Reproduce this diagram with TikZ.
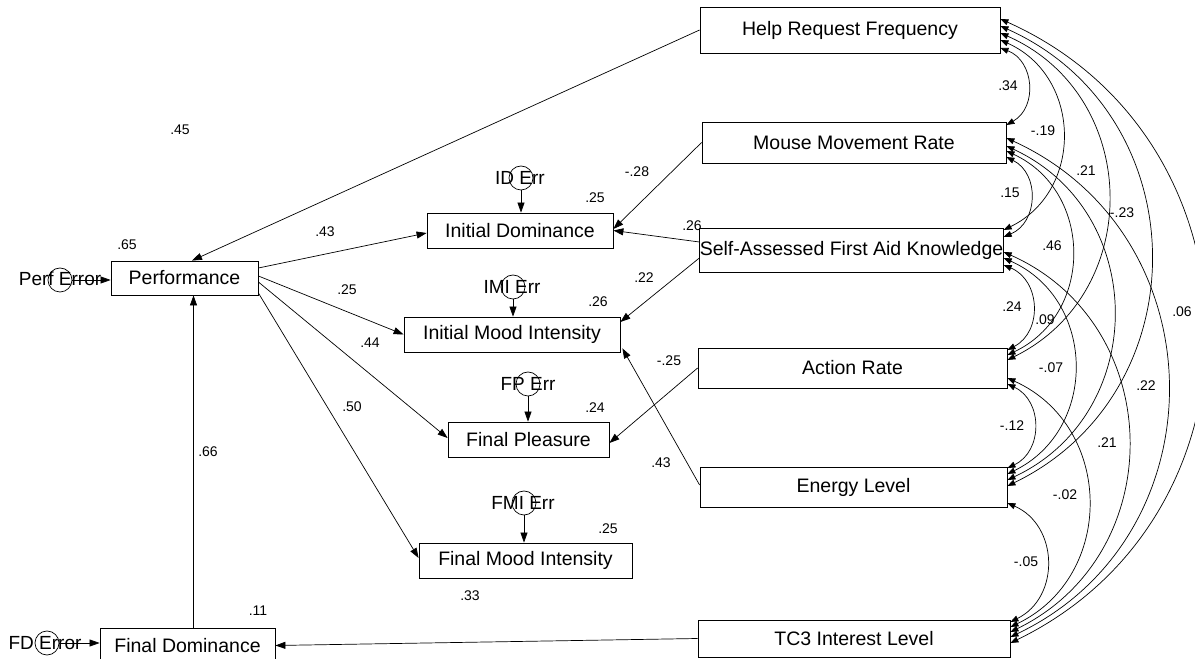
\documentclass[tikz,border=0pt]{standalone}
\usepackage{fontspec}
\setmainfont{Liberation Sans}
\usetikzlibrary{arrows.meta}
\begin{document}
\begin{tikzpicture}[x=1pt,y=1pt,
  box/.style={draw, line width=0.8pt, inner sep=0pt, font=\fontsize{19.5}{22}\selectfont},
  errc/.style={circle, draw, line width=0.7pt, minimum size=24pt, inner sep=0pt},
  errt/.style={font=\fontsize{19}{22}\selectfont, inner sep=0pt},
  num/.style={font=\fontsize{14}{16}\selectfont, inner sep=0pt},
  arr/.style={-{Triangle[length=10pt,width=7pt]}, line width=0.7pt},
  cov/.style={{Triangle[length=8pt,width=6pt]}-{Triangle[length=8pt,width=6pt]}, line width=0.7pt, bend left=65, looseness=1.2}]
\useasboundingbox (0,0) rectangle (1195,659);

% exogenous boxes
\node[box, minimum width=300pt, minimum height=46pt] (help) at (850,629) {Help Request Frequency};
\node[box, minimum width=304pt, minimum height=41pt] (mouse) at (854,516.5) {Mouse Movement Rate};
\node[box, minimum width=303pt, minimum height=44pt] (safak) at (851.5,409) {Self-Assessed First Aid Knowledge};
\node[box, minimum width=309pt, minimum height=40pt] (action) at (852.5,291) {Action Rate};
\node[box, minimum width=307pt, minimum height=40pt] (energy) at (853.5,172) {Energy Level};
\node[box, minimum width=312pt, minimum height=37pt] (tc3) at (854,20.5) {TC3 Interest Level};

% endogenous boxes
\node[box, minimum width=147pt, minimum height=34pt] (perf) at (184.5,381) {Performance};
\node[box, minimum width=175pt, minimum height=35pt] (fd) at (187.5,13.5) {Final Dominance};
\node[box, minimum width=186pt, minimum height=35pt] (id) at (520,428.5) {Initial Dominance};
\node[box, minimum width=216pt, minimum height=35pt] (imi) at (512,324.5) {Initial Mood Intensity};
\node[box, minimum width=161pt, minimum height=35pt] (fp) at (528.5,219.5) {Final Pleasure};
\node[box, minimum width=213pt, minimum height=35pt] (fmi) at (525.5,98.5) {Final Mood Intensity};

% error terms
\node[errc] (perfE) at (60,379) {};
\node[errt] (perfT) at (60,380) {Perf Error};
\node[errc] (fdE) at (47,16) {};
\node[errt] (fdT) at (45,16) {FD Error};
\node[errc] (idE) at (521,481) {};
\node[errt] (idT) at (520,481) {ID Err};
\node[errc] (imiE) at (513,372) {};
\node[errt] (imiT) at (512,372) {IMI Err};
\node[errc] (fpE) at (528,275) {};
\node[errt] (fpT) at (528,275) {FP Err};
\node[errc] (fmiE) at (524,156) {};
\node[errt] (fmiT) at (523,156) {FMI Err};

\draw[arr] (perfE.east) -- (perfE.east -| perf.west);
\draw[arr] (fdE.east) -- (fdE.east -| fd.west);
\draw[arr] (idE.south) -- (idE.south |- id.north);
\draw[arr] (imiE.south) -- (imiE.south |- imi.north);
\draw[arr] (fpE.south) -- (fpE.south |- fp.north);
\draw[arr] (fmiE.south) -- (fmiE.south |- fmi.north);

% regression paths
\draw[arr] (help.west) -- ([xshift=7.5pt]perf.north);
\draw[arr] ([yshift=10pt]perf.east) -- ([yshift=-2.5pt]id.west);
\draw[arr] ([yshift=2pt]perf.east) -- (imi.west);
\draw[arr] ([yshift=-4pt]perf.east) -- ([yshift=1.5pt]fp.west);
\draw[arr] ([yshift=-15pt]perf.east) -- ([yshift=2.5pt]fmi.west);
\draw[arr] ([xshift=6pt]fd.north) -- ([xshift=6pt]fd.north |- perf.south);
\draw[arr] (tc3.west) -- (fd.east);
\draw[arr] (mouse.west) -- ([yshift=1.5pt]id.east);
\draw[arr] ([yshift=8pt]safak.west) -- (id.east);
\draw[arr] ([yshift=-8pt]safak.west) -- ([yshift=12.5pt]imi.east);
\draw[arr] (action.west) -- ([yshift=-3.5pt]fp.east);
\draw[arr] ([yshift=2pt]energy.west) -- ([xshift=2pt,yshift=4pt]imi.south east);

% covariances
\draw[cov] ([yshift=-18pt]help.east) to ([yshift=17.5pt]mouse.east);
\draw[cov] ([yshift=-10pt]help.east) to ([yshift=20pt]safak.east);
\draw[cov] ([yshift=-3pt]help.east) to ([yshift=8pt]action.east);
\draw[cov] ([yshift=4pt]help.east) to ([yshift=1pt]energy.east);
\draw[cov] ([yshift=11pt]help.east) to ([yshift=-4.5pt]tc3.east);
\draw[cov] ([yshift=-14.5pt]mouse.east) to ([yshift=13pt]safak.east);
\draw[cov] ([yshift=-8.5pt]mouse.east) to ([yshift=13pt]action.east);
\draw[cov] ([yshift=-3.5pt]mouse.east) to ([yshift=7pt]energy.east);
\draw[cov] ([yshift=4.5pt]mouse.east) to ([yshift=1.5pt]tc3.east);
\draw[cov] ([yshift=-15pt]safak.east) to ([yshift=18pt]action.east);
\draw[cov] ([yshift=-8pt]safak.east) to ([yshift=13pt]energy.east);
\draw[cov] ([yshift=-2pt]safak.east) to ([yshift=6.5pt]tc3.east);
\draw[cov] ([yshift=-16pt]action.east) to ([yshift=19pt]energy.east);
\draw[cov] ([yshift=-10pt]action.east) to ([yshift=11.5pt]tc3.east);
\draw[cov] ([yshift=-16pt]energy.east) to ([yshift=16.5pt]tc3.east);

% path coefficients and R2
\node[num] (l1) at (180,529) {.45};
\node[num] (l2) at (127,414) {.65};
\node[num] (l3) at (325,427) {.43};
\node[num] (l4) at (347,369) {.25};
\node[num] (l5) at (370,316) {.44};
\node[num] (l6) at (352,252) {.50};
\node[num] (l7) at (208,207) {.66};
\node[num] (l8) at (258,48) {.11};
\node[num] (l9) at (470,63) {.33};
\node[num] (l10) at (637,487) {-.28};
\node[num] (l11) at (692,433) {.26};
\node[num] (l12) at (644,381) {.22};
\node[num] (l13) at (669,298) {-.25};
\node[num] (l14) at (661,196) {.43};
\node[num] (l15) at (595,461) {.25};
\node[num] (l16) at (598,357) {.26};
\node[num] (l17) at (595,251) {.24};
\node[num] (l18) at (608,130) {.25};
% covariance values
\node[num] (c1) at (1008,573) {.34};
\node[num] (c2) at (1043,528) {-.19};
\node[num] (c3) at (1086,488) {.21};
\node[num] (c4) at (1010,466) {.15};
\node[num] (c5) at (1122,446) {-.23};
\node[num] (c6) at (1052,413) {.46};
\node[num] (c7) at (1012,352) {.24};
\node[num] (c8) at (1045,339) {.09};
\node[num] (c9) at (1182,347) {.06};
\node[num] (c10) at (1051,291) {-.07};
\node[num] (c11) at (1146,273) {.22};
\node[num] (c12) at (1012,233) {-.12};
\node[num] (c13) at (1107,216) {.21};
\node[num] (c14) at (1065,164) {-.02};
\node[num] (c15) at (1026,97) {-.05};
\end{tikzpicture}
\end{document}
